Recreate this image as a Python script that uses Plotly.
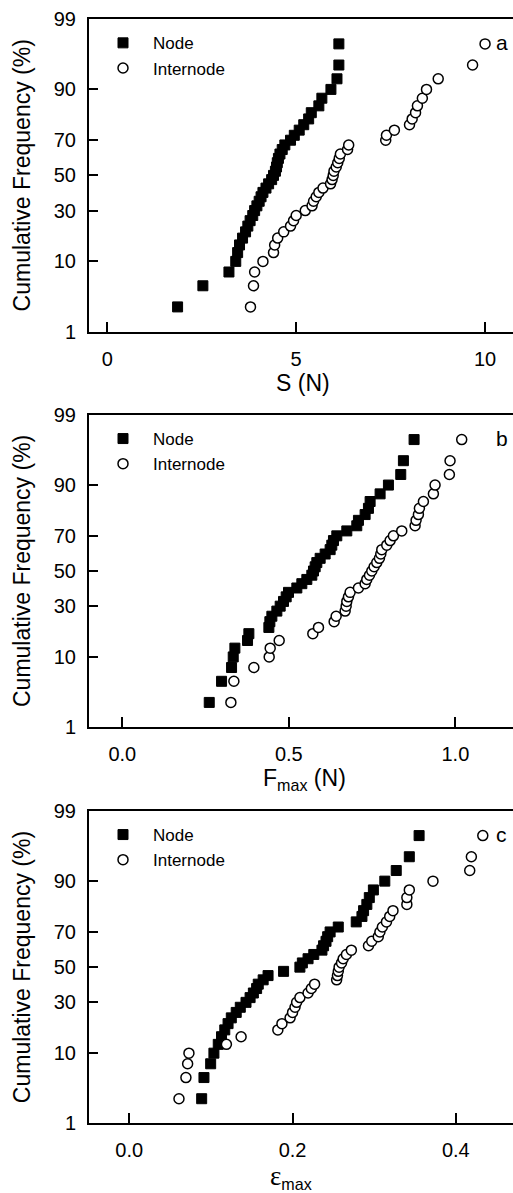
import plotly.graph_objects as go
from statistics import NormalDist

# ---------------- data ----------------
CUM_FREQ = [2.5, 5.0, 7.5, 10.0, 12.5, 15.0, 17.5, 20.0, 22.5, 25.0,
            27.5, 30.0, 32.5, 35.0, 37.5, 40.0, 42.5, 45.0, 47.5, 50.0,
            52.5, 55.0, 57.5, 60.0, 62.5, 65.0, 67.5, 70.0, 72.5, 75.0,
            77.5, 80.0, 82.5, 85.0, 87.5, 90.0, 92.5, 95.0, 97.5]

S_NODE = [1.86, 2.53, 3.22, 3.40, 3.45, 3.50, 3.58, 3.66, 3.72, 3.78,
          3.85, 3.90, 3.96, 4.02, 4.07, 4.12, 4.20, 4.27, 4.35, 4.40,
          4.45, 4.48, 4.50, 4.53, 4.57, 4.63, 4.70, 4.85, 4.95, 5.08,
          5.20, 5.33, 5.40, 5.60, 5.68, 5.92, 6.08, 6.13, 6.13]
S_INTERNODE = [3.79, 3.87, 3.90, 4.12, 4.40, 4.43, 4.51, 4.67, 4.85, 4.93,
               5.00, 5.24, 5.42, 5.46, 5.53, 5.60, 5.71, 5.91, 5.95, 5.98,
               6.00, 6.06, 6.10, 6.14, 6.17, 6.36, 6.39, 7.37, 7.39, 7.60,
               8.00, 8.07, 8.16, 8.21, 8.34, 8.45, 8.76, 9.67, 10.00]

FMAX_NODE = [0.261, 0.298, 0.328, 0.333, 0.338, 0.376, 0.380, 0.440, 0.443, 0.449,
             0.464, 0.474, 0.484, 0.492, 0.499, 0.524, 0.539, 0.554, 0.569, 0.574,
             0.579, 0.584, 0.594, 0.609, 0.624, 0.629, 0.634, 0.644, 0.674, 0.704,
             0.709, 0.729, 0.739, 0.744, 0.774, 0.799, 0.836, 0.844, 0.876]
FMAX_INTERNODE = [0.326, 0.335, 0.395, 0.441, 0.444, 0.471, 0.572, 0.589, 0.636, 0.642,
                  0.669, 0.672, 0.674, 0.679, 0.684, 0.709, 0.729, 0.734, 0.742, 0.749,
                  0.756, 0.764, 0.772, 0.776, 0.779, 0.794, 0.804, 0.814, 0.839, 0.879,
                  0.882, 0.889, 0.892, 0.904, 0.934, 0.939, 0.982, 0.984, 1.019]

EMAX_NODE = [0.0887, 0.0915, 0.0997, 0.1037, 0.109, 0.113, 0.117, 0.121, 0.125, 0.131,
             0.136, 0.143, 0.148, 0.152, 0.156, 0.158, 0.164, 0.170, 0.189, 0.209,
             0.212, 0.219, 0.226, 0.236, 0.238, 0.241, 0.243, 0.246, 0.256, 0.278,
             0.285, 0.287, 0.291, 0.294, 0.299, 0.313, 0.327, 0.343, 0.355]
EMAX_INTERNODE = [0.0609, 0.0694, 0.0715, 0.0731, 0.119, 0.137, 0.182, 0.187, 0.197, 0.200,
                  0.203, 0.205, 0.209, 0.219, 0.223, 0.227, 0.254, 0.255, 0.256, 0.257,
                  0.260, 0.262, 0.266, 0.272, 0.293, 0.297, 0.305, 0.307, 0.310, 0.315,
                  0.319, 0.323, 0.340, 0.340, 0.343, 0.372, 0.417, 0.419, 0.433]

Y_TICKS = [1, 10, 30, 50, 70, 90, 99]
X_TICKS_A = [0, 5, 10]
X_TICKS_B = [0.0, 0.5, 1.0]
X_TICKS_C = [0.0, 0.2, 0.4]
X_TICKTEXT_A = ["0", "5", "10"]
X_TICKTEXT_B = ["0.0", "0.5", "1.0"]
X_TICKTEXT_C = ["0.0", "0.2", "0.4"]
PANEL_LABELS = ["a", "b", "c"]
X_TITLES = ["S (N)", "F<sub>max</sub> (N)",
            "<span style=\"font-family:'Liberation Serif';font-size:27px\">ε</span><sub>max</sub>"]
Y_TITLE = "Cumulative Frequency (%)"

# ---------------- layout geometry ----------------
W, H = 513, 1193
L = 89
FONT = "Arial, 'Liberation Sans', sans-serif"

def probit(p):
    return NormalDist().inv_cdf(p / 100.0)

def py(ypx):
    return 1 - ypx / H

def px(xpx):
    return (xpx - L) / (W - L)

panels = [
    dict(top=19.3, bottom=331.5, rng=[-0.485, 10.74], tv=X_TICKS_A, tt=X_TICKTEXT_A,
         node=S_NODE, inter=S_INTERNODE, title_x=303, title_base=391),
    dict(top=415.0, bottom=727.0, rng=[-0.100, 1.173], tv=X_TICKS_B, tt=X_TICKTEXT_B,
         node=FMAX_NODE, inter=FMAX_INTERNODE, title_x=304, title_base=787),
    dict(top=811.0, bottom=1123.3, rng=[-0.0493, 0.470], tv=X_TICKS_C, tt=X_TICKTEXT_C,
         node=EMAX_NODE, inter=EMAX_INTERNODE, title_x=291, title_base=1185),
]

zvals = [probit(p) for p in CUM_FREQ]
ytickvals = [probit(p) for p in Y_TICKS]
yticktext = [str(t) for t in Y_TICKS]
yrange = [probit(1), probit(99)]

fig = go.Figure()
layout = dict(
    width=W, height=H,
    margin=dict(l=L, r=0, t=0, b=0, autoexpand=False),
    paper_bgcolor="white", plot_bgcolor="white",
    font=dict(family=FONT, color="black", size=20),
    annotations=[], showlegend=True,
)

for k, p in enumerate(panels):
    sfx = "" if k == 0 else str(k + 1)
    xa, ya = "x" + sfx, "y" + sfx
    lg = "legend" + sfx
    fig.add_trace(go.Scatter(
        x=p["node"], y=zvals, mode="markers", name="Node",
        marker=dict(symbol="square", size=10, color="black",
                    line=dict(color="black", width=1)),
        xaxis=xa, yaxis=ya, legend=lg, cliponaxis=False))
    fig.add_trace(go.Scatter(
        x=p["inter"], y=zvals, mode="markers", name="Internode",
        marker=dict(symbol="circle", size=10, color="white",
                    line=dict(color="black", width=1.5)),
        xaxis=xa, yaxis=ya, legend=lg, cliponaxis=False))

    dom = [py(p["bottom"]), py(p["top"])]
    layout["xaxis" + sfx] = dict(
        domain=[0, 1], anchor=ya, range=p["rng"], tickvals=p["tv"], ticktext=p["tt"],
        ticks="inside", ticklen=10, tickwidth=1.5, tickcolor="black",
        showline=True, linewidth=2, linecolor="black", mirror=True,
        showgrid=False, zeroline=False, tickfont=dict(size=20, family=FONT),
        ticklabelstandoff=8, automargin=False)
    layout["yaxis" + sfx] = dict(
        domain=dom, anchor=xa, range=yrange, tickvals=ytickvals, ticktext=yticktext,
        ticks="inside", ticklen=9, tickwidth=1.5, tickcolor="black",
        showline=True, linewidth=2, linecolor="black", mirror=False,
        showgrid=False, zeroline=False, tickfont=dict(size=20, family=FONT),
        ticklabelstandoff=7, automargin=False)
    layout[lg] = dict(
        x=px(93), y=py(p["top"] + 6), xanchor="left", yanchor="top",
        font=dict(size=17, family=FONT), itemwidth=50, bgcolor="rgba(0,0,0,0)",
        borderwidth=0, tracegroupgap=0, itemsizing="trace")
    # panel letter
    layout["annotations"].append(dict(
        text=PANEL_LABELS[k], x=px(501.5), y=py(p["top"] + 23), xref="paper", yref="paper",
        xanchor="center", yanchor="middle", showarrow=False, font=dict(size=21, family=FONT)))
    # x-axis title
    layout["annotations"].append(dict(
        text=X_TITLES[k], x=px(p["title_x"]), y=py(p["title_base"] - 8), xref="paper",
        yref="paper", xanchor="center", yanchor="middle", showarrow=False,
        font=dict(size=23, family=FONT)))
    # y-axis title
    layout["annotations"].append(dict(
        text=Y_TITLE, x=px(22), y=py((p["top"] + p["bottom"]) / 2), xref="paper",
        yref="paper", xanchor="center", yanchor="middle", textangle=-90, showarrow=False,
        font=dict(size=23, family=FONT)))

fig.update_layout(**layout)
fig.write_html(
    "out.html",
    config={"displayModeBar": False},
    post_script="document.body.style.margin='0';document.body.style.overflow='hidden';")
